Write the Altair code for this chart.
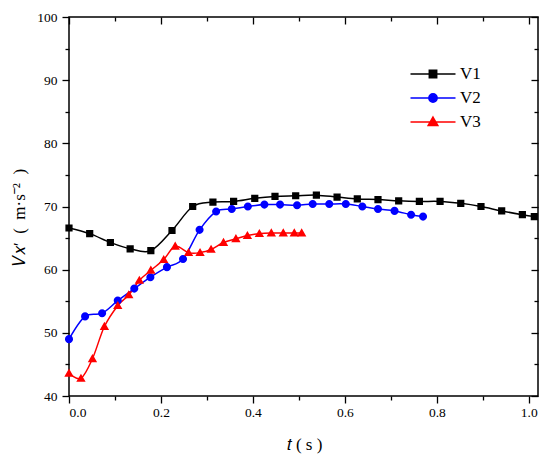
import altair as alt
import pandas as pd

# ---- data ----
t_v1 = [0.0, 0.045, 0.090, 0.133, 0.178, 0.224, 0.269, 0.313, 0.358, 0.404, 0.448, 0.493,
        0.538, 0.583, 0.627, 0.672, 0.717, 0.762, 0.807, 0.852, 0.896, 0.941, 0.986, 1.012]
v_v1 = [66.6, 65.7, 64.3, 63.3, 63.0, 66.2, 70.0, 70.7, 70.8, 71.3, 71.6, 71.7,
        71.8, 71.5, 71.2, 71.1, 70.9, 70.8, 70.8, 70.5, 70.0, 69.3, 68.7, 68.4]

t_v2 = [0.0, 0.035, 0.072, 0.106, 0.142, 0.177, 0.213, 0.248, 0.284, 0.320, 0.354, 0.389,
        0.425, 0.459, 0.496, 0.530, 0.566, 0.602, 0.638, 0.672, 0.708, 0.744, 0.770]
v_v2 = [49.0, 52.6, 53.1, 55.1, 57.0, 58.8, 60.4, 61.7, 66.3, 69.2, 69.6, 70.0,
        70.3, 70.3, 70.2, 70.4, 70.4, 70.4, 70.0, 69.6, 69.3, 68.7, 68.4]

t_v3 = [0.0, 0.026, 0.051, 0.077, 0.106, 0.130, 0.153, 0.178, 0.206, 0.231, 0.260, 0.285,
        0.309, 0.336, 0.363, 0.388, 0.414, 0.440, 0.466, 0.490, 0.506]
v_v3 = [43.6, 42.8, 45.9, 51.0, 54.3, 56.0, 58.3, 59.9, 61.6, 63.7, 62.7, 62.7,
        63.2, 64.3, 64.9, 65.4, 65.7, 65.8, 65.8, 65.8, 65.8]

series_names = ["V1", "V2", "V3"]
series_colors = ["#000000", "#0000ff", "#ff0000"]

x_major = [0.0, 0.2, 0.4, 0.6, 0.8, 1.0]
x_minor = [0.1, 0.3, 0.5, 0.7, 0.9]
y_major = [40, 50, 60, 70, 80, 90, 100]
y_minor = [45, 55, 65, 75, 85, 95]

x_title = "𝑡 ( s )"
y_title = "𝑉𝑥′\u2002(\u2002m·s⁻²\u2002)"

# marker glyphs: a line segment (only stroked, so only visible in the legend) + marker
shape_paths = [
    "M-2.5,0H2.5M-0.4,-0.4H0.4V0.4H-0.4Z",
    "M-2.5,0H2.5M0.45,0A0.45,0.45,0,1,1,-0.45,0A0.45,0.45,0,1,1,0.45,0Z",
    "M-2.5,0H2.5M0,-0.52L0.52,0.38H-0.52Z",
]

rows = []
for name, ts, vs in [("V1", t_v1, v_v1), ("V2", t_v2, v_v2), ("V3", t_v3, v_v3)]:
    for i, (t, v) in enumerate(zip(ts, vs)):
        rows.append({"series": name, "t": t, "v": v, "order": i})
df = pd.DataFrame(rows)

FONT = "Liberation Serif"
xscale = alt.Scale(domain=[0, 1.02], nice=False, zero=False)
yscale = alt.Scale(domain=[40, 100], nice=False, zero=False)
color_scale = alt.Scale(domain=series_names, range=series_colors)
shape_scale = alt.Scale(domain=series_names, range=shape_paths)

common_axis = dict(grid=False, domain=False, tickColor="black", tickWidth=1.3,
                   labelFont=FONT, labelColor="black", labelFontSize=13.5,
                   titleFont=FONT, titleColor="black", titleFontWeight="normal",
                   titleFontSize=17)

base = alt.Chart(df)

legend = alt.Legend(title=None, orient="none", legendX=341, legendY=47, padding=0,
                    labelFont=FONT, labelFontSize=17, labelColor="black",
                    symbolSize=324, symbolStrokeWidth=1.7, symbolOffset=13,
                    labelOffset=17, rowPadding=6, symbolOpacity=1)

line_layers = []
for k, (name, col) in enumerate(zip(series_names, series_colors)):
    if k == 0:
        xax = alt.Axis(orient="bottom", values=x_major, format=".1f", tickSize=7,
                       labelPadding=2, title=x_title, titleX=235, titleY=48,
                       titleAlign="center", titleBaseline="middle", **common_axis)
        yax = alt.Axis(orient="left", values=y_major, format="d", tickSize=7,
                       labelPadding=5, title=y_title, titleX=-50, titleY=200,
                       titleAngle=270, titleAlign="center", titleBaseline="middle",
                       **common_axis)
    else:
        xax = None
        yax = None
    line_layers.append(
        base.transform_filter(alt.datum.series == name)
        .mark_line(interpolate="cardinal", strokeWidth=1.5, color=col)
        .encode(
            x=alt.X("t:Q", scale=xscale, axis=xax),
            y=alt.Y("v:Q", scale=yscale, axis=yax),
            order="order:Q",
        )
    )

points = base.mark_point(filled=True, size=324, opacity=1).encode(
    x=alt.X("t:Q", scale=xscale,
            axis=alt.Axis(orient="bottom", values=x_minor, tickSize=4, labels=False,
                          title=None, **common_axis)),
    y=alt.Y("v:Q", scale=yscale,
            axis=alt.Axis(orient="left", values=y_minor, tickSize=4, labels=False,
                          title=None, **common_axis)),
    fill=alt.Fill("series:N", scale=color_scale, legend=legend),
    stroke=alt.Stroke("series:N", scale=color_scale, legend=legend),
    shape=alt.Shape("series:N", scale=shape_scale, legend=legend),
    strokeWidth=alt.value(0),
)

inner_major = base.mark_point(opacity=0).encode(
    x=alt.X("t:Q", scale=xscale,
            axis=alt.Axis(orient="top", values=x_major, tickSize=7, offset=-7,
                          labels=False, title=None, **common_axis)),
    y=alt.Y("v:Q", scale=yscale,
            axis=alt.Axis(orient="right", values=y_major, tickSize=7, offset=-7,
                          labels=False, title=None, **common_axis)),
)

inner_minor = base.mark_point(opacity=0).encode(
    x=alt.X("t:Q", scale=xscale,
            axis=alt.Axis(orient="top", values=x_minor, tickSize=4, offset=-4,
                          labels=False, title=None, **common_axis)),
    y=alt.Y("v:Q", scale=yscale,
            axis=alt.Axis(orient="right", values=y_minor, tickSize=4, offset=-4,
                          labels=False, title=None, **common_axis)),
)

chart = alt.layer(*line_layers, points, inner_major, inner_minor).resolve_axis(
    x="independent", y="independent"
).properties(
    width=469, height=379,
    padding={"left": 61, "top": 9, "right": 4, "bottom": 60},
    autosize=alt.AutoSizeParams(type="none"),
    background="white",
).configure_view(stroke="black", strokeWidth=1.5)

chart.save("out.html", embed_options={"renderer": "svg", "actions": False})
